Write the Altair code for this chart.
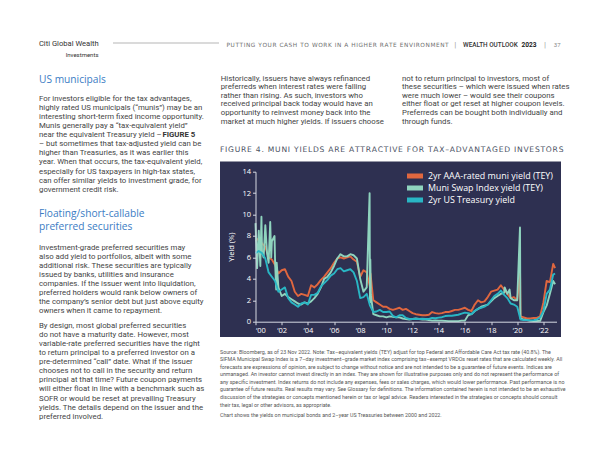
import altair as alt
import pandas as pd

# ---------------- data ----------------
quarters = [d.strftime("%Y-%m-%d") for d in pd.date_range("2000-01-01", "2022-10-01", freq="QS")] + ["2022-11-23"]

treasury_2y = [6.4, 6.6, 6.4, 5.9, 4.6, 4.2, 3.8, 2.8, 3.0, 3.2, 2.2, 1.8, 1.6, 1.4, 1.7, 1.8,
               1.6, 2.5, 2.5, 2.7, 3.3, 3.6, 3.9, 4.3, 4.5, 4.9, 5.0, 4.7, 4.8, 4.9, 4.6, 3.8,
               2.2, 2.3, 2.6, 1.5, 0.9, 0.95, 1.1, 0.9, 0.9, 0.95, 0.55, 0.4, 0.6, 0.6, 0.35, 0.25,
               0.25, 0.27, 0.25, 0.28, 0.25, 0.25, 0.35, 0.32, 0.38, 0.42, 0.53, 0.55, 0.55, 0.6, 0.65, 0.75,
               0.85, 0.8, 0.7, 1.0, 1.2, 1.3, 1.4, 1.6, 2.0, 2.4, 2.6, 2.9, 2.5, 2.2, 1.7, 1.6,
               1.4, 0.2, 0.15, 0.15, 0.12, 0.15, 0.2, 0.4, 1.0, 2.6, 3.0, 4.4, 4.5]

muni_aaa_tey = [7.5, 7.8, 7.3, 7.0, 6.0, 5.8, 5.3, 4.5, 4.8, 4.9, 4.2, 3.8, 2.8, 2.4, 2.6, 2.5,
                2.4, 3.4, 3.2, 3.5, 3.9, 4.2, 4.6, 5.0, 5.5, 5.9, 6.0, 5.9, 6.0, 6.1, 5.8, 5.6,
                4.2, 4.8, 4.6, 3.2, 2.0, 1.8, 1.6, 1.4, 1.4, 1.2, 1.1, 1.2, 1.3, 1.1, 1.2, 1.0,
                0.8, 0.7, 0.65, 0.6, 0.6, 0.65, 0.9, 0.8, 0.75, 0.8, 0.9, 0.9, 1.0, 1.1, 1.1, 1.2,
                1.3, 1.1, 1.0, 1.6, 2.0, 1.8, 1.9, 2.3, 2.8, 2.9, 3.0, 3.4, 3.0, 2.6, 2.2, 2.3,
                2.0, 0.5, 0.4, 0.3, 0.3, 0.35, 0.35, 0.5, 1.8, 3.8, 3.7, 5.4, 5.0]
muni_extra_dates = ["2008-10-15", "2020-03-20", "2020-03-28"]
muni_extra_values = [4.5, 4.6, 2.0]

swap_tey = [9.2, 8.5, 6.5, 9.0, 5.5, 7.5, 5.5, 3.2, 2.4, 2.6, 2.3, 2.1, 1.9, 1.7, 1.6, 1.8,
            1.7, 1.9, 2.2, 2.6, 3.2, 4.0, 4.2, 4.6, 5.2, 5.9, 6.3, 6.1, 6.1, 6.3, 6.2, 5.9,
            4.0, 2.8, 3.2, 1.8, 0.7, 0.6, 0.5, 0.5, 0.4, 0.5, 0.45, 0.4, 0.4, 0.3, 0.25, 0.2,
            0.25, 0.3, 0.25, 0.2, 0.2, 0.15, 0.1, 0.12, 0.1, 0.1, 0.08, 0.05, 0.05, 0.05, 0.05, 0.1,
            0.1, 0.6, 0.7, 1.0, 1.2, 1.4, 1.5, 1.6, 1.9, 2.2, 2.4, 2.6, 2.7, 2.6, 2.2, 2.0,
            2.0, 0.3, 0.2, 0.15, 0.08, 0.06, 0.06, 0.08, 0.9, 1.5, 2.6, 3.8, 3.5]
swap_extra_dates = ["2000-02-15", "2000-05-15", "2000-06-15", "2000-08-15", "2000-11-15", "2001-02-15",
                    "2001-03-15", "2001-06-15", "2001-08-01", "2001-08-15", "2008-09-20", "2008-09-28",
                    "2008-10-10", "2008-10-25", "2019-01-15", "2019-06-01", "2020-03-18", "2020-03-25",
                    "2020-03-28"]
swap_extra_values = [5.0, 5.2, 9.8, 6.0, 6.5, 9.3, 6.0, 8.0, 3.0, 5.5, 12.0, 3.5, 5.8, 2.5, 3.2, 3.0,
                     8.8, 4.0, 1.5]

series_names = ["2yr AAA-rated muni yield (TEY)", "Muni Swap Index yield (TEY)", "2yr US Treasury yield"]
series_colors = ["#e0673f", "#8fd4be", "#29b6c4"]
y_ticks = [0, 2, 4, 6, 8, 10, 12, 14]
x_tick_years = list(range(2000, 2023, 2))

# ---------------- page texts ----------------
brand = ["Citi Global Wealth", "Investments"]
running_head = "PUTTING YOUR CASH TO WORK IN A HIGHER RATE ENVIRONMENT"
outlook = "WEALTH OUTLOOK"
outlook_year = "2023"
page_no = "37"
heading1 = "US municipals"
heading2 = ["Floating/short-callable", "preferred securities"]
para1 = ["For investors eligible for the tax advantages,",
         "highly rated US municipals (\u201cmunis\u201d) may be an",
         "interesting short-term fixed income opportunity.",
         "Munis generally pay a \u201ctax-equivalent yield\u201d",
         "near the equivalent Treasury yield \u2013",
         "\u2013 but sometimes that tax-adjusted yield can be",
         "higher than Treasuries, as it was earlier this",
         "year. When that occurs, the tax-equivalent yield,",
         "especially for US taxpayers in high-tax states,",
         "can offer similar yields to investment grade, for",
         "government credit risk."]
para1_bold = "FIGURE 5"
para2 = ["Investment-grade preferred securities may",
         "also add yield to portfolios, albeit with some",
         "additional risk. These securities are typically",
         "issued by banks, utilities and insurance",
         "companies. If the issuer went into liquidation,",
         "preferred holders would rank below owners of",
         "the company\u2019s senior debt but just above equity",
         "owners when it came to repayment."]
para3 = ["By design, most global preferred securities",
         "do not have a maturity date. However, most",
         "variable-rate preferred securities have the right",
         "to return principal to a preferred investor on a",
         "pre-determined \u201ccall\u201d date. What if the issuer",
         "chooses not to call in the security and return",
         "principal at that time? Future coupon payments",
         "will either float in line with a benchmark such as",
         "SOFR or would be reset at prevailing Treasury",
         "yields. The details depend on the issuer and the",
         "preferred involved."]
para_mid = ["Historically, issuers have always refinanced",
            "preferreds when interest rates were falling",
            "rather than rising. As such, investors who",
            "received principal back today would have an",
            "opportunity to reinvest money back into the",
            "market at much higher yields. If issuers choose"]
para_right = ["not to return principal to investors, most of",
              "these securities \u2013 which were issued when rates",
              "were much lower \u2013 would see their coupons",
              "either float or get reset at higher coupon levels.",
              "Preferreds can be bought both individually and",
              "through funds."]
fig_title = "FIGURE 4. MUNI YIELDS ARE ATTRACTIVE FOR TAX\u2013ADVANTAGED INVESTORS"
footnote = ["Source: Bloomberg, as of 23 Nov 2022. Note: Tax\u2013equivalent yields (TEY) adjust for top Federal and Affordable Care Act tax rate (40.8%). The",
            "SIFMA Municipal Swap Index is a 7\u2013day investment\u2013grade market index comprising tax\u2013exempt VRDOs reset rates that are calculated weekly. All",
            "forecasts are expressions of opinion, are subject to change without notice and are not intended to be a guarantee of future events. Indices are",
            "unmanaged. An investor cannot invest directly in an index. They are shown for illustrative purposes only and do not represent the performance of",
            "any specific investment. Index returns do not include any expenses, fees or sales charges, which would lower performance. Past performance is no",
            "guarantee of future results. Real results may vary. See Glossary for definitions. The information contained herein is not intended to be an exhaustive",
            "discussion of the strategies or concepts mentioned herein or tax or legal advice. Readers interested in the strategies or concepts should consult",
            "their tax, legal or other advisors, as appropriate."]
chart_note = "Chart shows the yields on municipal bonds and 2\u2013year US Treasuries between 2000 and 2022."

# ---------------- layout ----------------
OX, OY = 255.5, 171.7          # page position of plot origin
W, H = 301, 150
BODY = "Roboto"
BODY_SIZE = 7.8
TEXT_COL = "#444444"
BLUE = "#3b7cc4"
ONE = pd.DataFrame({"a": [0]})


def spaced(s):
    return "\u200a".join(s)


def txt(t, px, py, font=BODY, size=BODY_SIZE, color=TEXT_COL, weight="normal", align="left"):
    return alt.Chart(ONE).mark_text(font=font, fontSize=size, color=color, fontWeight=weight,
                                    align=align, baseline="middle").encode(
        x=alt.value(px - OX), y=alt.value(py - OY), text=alt.value(t))


def block(lines, px, py0, lh, **kw):
    return [txt(t, px, py0 + i * lh, **kw) for i, t in enumerate(lines)]


# line data
frames = [
    pd.DataFrame({"date": quarters + muni_extra_dates, "value": muni_aaa_tey + muni_extra_values,
                  "series": series_names[0]}),
    pd.DataFrame({"date": quarters + swap_extra_dates, "value": swap_tey + swap_extra_values,
                  "series": series_names[1]}),
    pd.DataFrame({"date": quarters, "value": treasury_2y, "series": series_names[2]}),
]
for f in frames:
    f.sort_values("date", inplace=True)
lines_df = pd.concat(frames, ignore_index=True)

xscale = alt.Scale(type="utc", domain=[alt.DateTime(year=2000, month=1, date=1, utc=True),
                                       alt.DateTime(year=2023, month=1, date=1, utc=True)])
yscale = alt.Scale(domain=[0, 14], nice=False)
cscale = alt.Scale(domain=series_names, range=series_colors)

x_axis = alt.Axis(values=[alt.DateTime(year=y, month=1, date=1, utc=True) for y in x_tick_years],
                  labelExpr="'\u2018' + utcFormat(datum.value, '%y')", title=None, zindex=2,
                  labelFont="Open Sans", labelFontSize=7.5, labelColor="#ffffff",
                  domainColor="#d6d8e2", tickColor="#d6d8e2", tickSize=3, labelPadding=2, grid=False)
y_axis = alt.Axis(values=y_ticks, title="Yield (%)", titleColor="#ffffff", titleFont="Open Sans",
                  titleFontSize=7.5, titleFontWeight="normal", titlePadding=6, zindex=2,
                  labelFont="Open Sans", labelFontSize=7.5, labelColor="#ffffff",
                  domainColor="#d6d8e2", tickColor="#d6d8e2", tickSize=3, labelPadding=2, grid=False)


def series_layer(i):
    return alt.Chart(lines_df).transform_filter(alt.datum.series == series_names[i]).mark_line(
        strokeWidth=1.9, strokeJoin="round").encode(
        x=alt.X("date:T", scale=xscale, axis=x_axis),
        y=alt.Y("value:Q", scale=yscale, axis=y_axis),
        color=alt.Color("series:N", scale=cscale, legend=None),
    )


bg = alt.Chart(ONE).mark_rect(color="#2e3051").encode(
    x=alt.value(220 - OX), x2=alt.value(561 - OX), y=alt.value(161.5 - OY), y2=alt.value(337 - OY))
head_rule = alt.Chart(ONE).mark_rule(color="#b5b5b5", strokeWidth=1).encode(
    x=alt.value(113 - OX), x2=alt.value(219 - OX), y=alt.value(43 - OY))

layers = [bg, head_rule, series_layer(0), series_layer(1), series_layer(2)]

# legend (drawn by hand inside the plot)
for i, name in enumerate(series_names):
    ly = 176 + i * 12
    layers.append(alt.Chart(ONE).mark_rule(color=series_colors[i], strokeWidth=5).encode(
        x=alt.value(407 - OX), x2=alt.value(423 - OX), y=alt.value(ly - OY)))
    layers.append(txt(name, 428, ly, font="Open Sans", size=8.9, color="#ffffff"))

# header
layers.append(txt(brand[0], 98.7, 44, size=7.6, color="#333333", align="right"))
layers.append(txt(brand[1], 98.5, 55, size=6, color="#333333", align="right"))
layers.append(txt(spaced(running_head), 226.5, 45, font="DejaVu Sans", size=5.8, color="#707070"))
layers.append(txt("|", 455.4, 45, size=6.5, color="#888888", align="center"))
layers.append(txt("|", 545, 45, size=6.5, color="#888888", align="center"))
layers.append(txt(outlook, 463, 45, size=6.4, color="#333333", weight=500))
layers.append(txt(outlook_year, 521.5, 45, size=6.6, color="#222222", weight="bold"))
layers.append(txt(page_no, 553.8, 45, size=6, color="#888888"))
# headings
layers.append(txt(heading1, 39, 80, font="Open Sans", size=10.2, color=BLUE))
layers += block(heading2, 39, 214.3, 13, font="Open Sans", size=10.2, color=BLUE)
# body
layers += block(para1, 39, 99, 9.07)
layers.append(txt(para1_bold, 162.5, 99 + 4 * 9.07, weight="bold", color="#333333"))
layers += block(para2, 39, 247.7, 9.0)
layers += block(para3, 39, 326, 9.07)
layers += block(para_mid, 220.7, 78.5, 8.6)
layers += block(para_right, 402, 78.5, 8.6)
# figure title
layers.append(txt(spaced(fig_title), 220, 150, font="DejaVu Sans", size=7.6, color="#4a5163"))
# footnote
layers += block(footnote, 220, 351.7, 7.55, size=5.3, color="#555555")
layers.append(txt(chart_note, 220, 415, size=5.3, color="#555555"))

chart = alt.layer(*layers).properties(
    width=W, height=H, autosize=alt.AutoSizeParams(type="none"),
    padding={"left": OX - 8, "top": OY - 8, "right": 584 - (OX - 8) - W, "bottom": 447 - (OY - 8) - H},
    background="#ffffff",
).configure_view(strokeWidth=0)

chart.save("out.html", embed_options={"renderer": "svg", "actions": False})
